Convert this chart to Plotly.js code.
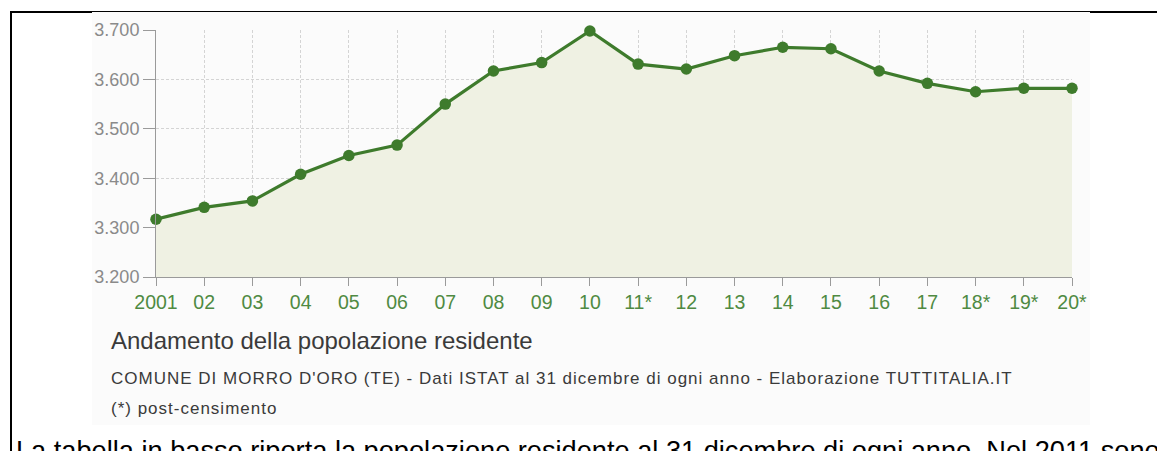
<!DOCTYPE html>
<html>
<head>
<meta charset="utf-8">
<script src="https://cdn.plot.ly/plotly-3.0.1.min.js"></script>
<style>
  html, body { margin: 0; padding: 0; background: #ffffff; overflow: hidden; }
  #chart { width: 1157px; height: 451px; }
</style>
</head>
<body>
<div id="chart"></div>
<script>
// ---- data ----
const years = ['2001','02','03','04','05','06','07','08','09','10','11*','12','13','14','15','16','17','18*','19*','20*'];
const population = [3317,3341,3354,3408,3446,3467,3550,3617,3634,3698,3631,3621,3648,3665,3662,3617,3592,3575,3582,3582];
const yTickValues = [3200,3300,3400,3500,3600,3700];
const yTickLabels = ['3.200','3.300','3.400','3.500','3.600','3.700'];
const chartTitle = 'Andamento della popolazione residente';
const chartSubtitle = "COMUNE DI MORRO D'ORO (TE) - Dati ISTAT al 31 dicembre di ogni anno - Elaborazione TUTTITALIA.IT";
const chartNote = '(*) post-censimento';
const pageText = 'La tabella in basso riporta la popolazione residente al 31 dicembre di ogni anno. Nel 2011 sono';

// ---- geometry helpers (pixel -> paper) ----
const W = 1157, H = 451;
const M = {l: 156, r: W - 1072, t: 30, b: H - 277};
const PW = W - M.l - M.r, PH = H - M.t - M.b;
const px = x => (x - M.l) / PW;
const py = y => (H - M.b - y) / PH;

const green = '#3e7b2c';
const font = 'Liberation Sans, Arial, Helvetica, sans-serif';
const spaced = s => '<span style="letter-spacing:1px">' + s + '</span>';

const trace = {
  x: years,
  y: population,
  type: 'scatter',
  mode: 'lines+markers',
  fill: 'tozeroy',
  fillcolor: '#eff1e3',
  line: {color: green, width: 3.2},
  marker: {color: green, size: 11.5},
  cliponaxis: false,
  hoverinfo: 'x+y'
};

const layout = {
  width: W, height: H,
  margin: M,
  paper_bgcolor: '#ffffff',
  plot_bgcolor: 'rgba(0,0,0,0)',
  showlegend: false,
  font: {family: font},
  xaxis: {
    type: 'category',
    range: [0, years.length - 1],
    showgrid: true, gridcolor: '#d4d4d4', griddash: '3px,2px', gridwidth: 1,
    showline: true, linecolor: '#9a9a9a', linewidth: 1,
    ticks: 'outside', ticklen: 8, tickcolor: '#9a9a9a', tickwidth: 1,
    tickfont: {size: 19.5, color: '#4f8a42', family: font},
    zeroline: false, fixedrange: true
  },
  yaxis: {
    range: [3200, 3700],
    tickvals: yTickValues, ticktext: yTickLabels,
    showgrid: true, gridcolor: '#d4d4d4', griddash: '3px,2px', gridwidth: 1,
    showline: true, linecolor: '#9a9a9a', linewidth: 1,
    ticks: 'outside', ticklen: 12, tickcolor: '#9a9a9a', tickwidth: 1,
    tickfont: {size: 18, color: '#8a8a8a', family: font},
    zeroline: false, fixedrange: true
  },
  shapes: [
    // chart image background
    {type: 'rect', xref: 'paper', yref: 'paper', x0: px(92), x1: px(1090), y0: py(425), y1: py(12),
     fillcolor: '#fbfbfb', line: {width: 0}, layer: 'below'},
    // black frame lines
    {type: 'line', xref: 'paper', yref: 'paper', x0: px(10), x1: px(92), y0: py(12), y1: py(12),
     line: {color: '#000000', width: 2}, layer: 'above'},
    {type: 'line', xref: 'paper', yref: 'paper', x0: px(1090), x1: px(1157), y0: py(12), y1: py(12),
     line: {color: '#000000', width: 2}, layer: 'above'},
    {type: 'line', xref: 'paper', yref: 'paper', x0: px(92), x1: px(1090), y0: py(11.5), y1: py(11.5),
     line: {color: '#000000', width: 1}, layer: 'above'},
    {type: 'line', xref: 'paper', yref: 'paper', x0: px(11), x1: px(11), y0: py(11), y1: py(452),
     line: {color: '#000000', width: 2}, layer: 'above'}
  ],
  annotations: [
    {text: chartTitle, xref: 'paper', yref: 'paper', x: px(109), y: py(340), xanchor: 'left', yanchor: 'middle',
     showarrow: false, font: {size: 24, color: '#3a3a3a', family: font}},
    {text: spaced(chartSubtitle), xref: 'paper', yref: 'paper', x: px(109), y: py(378), xanchor: 'left', yanchor: 'middle',
     showarrow: false, font: {size: 17, color: '#3a3a3a', family: font}},
    {text: spaced(chartNote), xref: 'paper', yref: 'paper', x: px(109), y: py(408), xanchor: 'left', yanchor: 'middle',
     showarrow: false, font: {size: 17, color: '#3a3a3a', family: font}},
    {text: pageText, xref: 'paper', yref: 'paper', x: px(14), y: py(450), xanchor: 'left', yanchor: 'middle',
     showarrow: false, font: {size: 27.2, color: '#000000', family: font}}
  ]
};

Plotly.newPlot('chart', [trace], layout, {displayModeBar: false, staticPlot: true});
</script>
</body>
</html>
